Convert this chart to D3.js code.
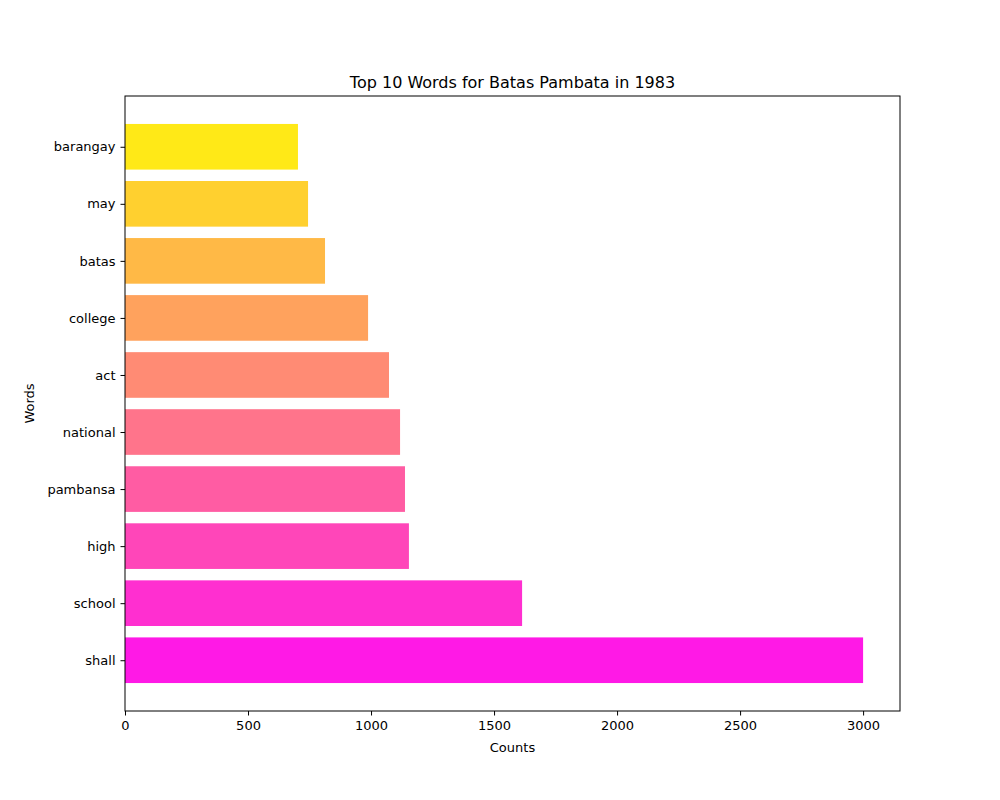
<!DOCTYPE html>
<html>
<head>
<meta charset="utf-8">
<script src="https://cdn.jsdelivr.net/npm/d3@7"></script>
<style>
  body { margin: 0; background: #fff; }
  text { font-family: "DejaVu Sans", sans-serif; }
</style>
</head>
<body>
<div id="chart"></div>
<script>
const words = ["shall", "school", "high", "pambansa", "national", "act", "college", "batas", "may", "barangay"];
const counts = [3000, 1614, 1154, 1138, 1118, 1073, 988, 813, 744, 703];
const colors = ["#ff19e6", "#ff2fd0", "#ff46b9", "#ff5ca3", "#ff748b", "#ff8b74", "#ffa25d", "#ffb946", "#ffd02f", "#ffe917"];
const xTicks = [0, 500, 1000, 1500, 2000, 2500, 3000];

const width = 1000, height = 800;
const plotLeft = 125, plotRight = 900, plotTop = 96, plotBottom = 711;

const svg = d3.select("#chart").append("svg")
    .attr("width", width)
    .attr("height", height);

const x = d3.scaleLinear().domain([0, 3150]).range([plotLeft, plotRight]);
// matplotlib style: bars at integer positions, 0.8 tall, 5% margins
const y = d3.scaleLinear().domain([-0.89, 9.89]).range([plotBottom, plotTop]);
const barH = y(0) - y(0.8);

svg.append("g")
  .selectAll("rect")
  .data(words)
  .enter()
  .append("rect")
    .attr("x", x(0))
    .attr("y", (d, i) => y(i + 0.4))
    .attr("width", (d, i) => x(counts[i]) - x(0))
    .attr("height", barH)
    .attr("fill", (d, i) => colors[i]);

// frame
svg.append("rect")
    .attr("x", plotLeft).attr("y", plotTop)
    .attr("width", plotRight - plotLeft).attr("height", plotBottom - plotTop)
    .attr("fill", "none").attr("stroke", "#000").attr("stroke-width", 1);

const xAxis = svg.append("g")
    .attr("transform", "translate(0," + plotBottom + ")")
    .call(d3.axisBottom(x).tickValues(xTicks).tickSize(4.5).tickPadding(5).tickFormat(d3.format("d")));
xAxis.select(".domain").remove();
xAxis.selectAll("text").attr("font-size", 13).attr("fill", "#000");

const yAxis = svg.append("g")
    .attr("transform", "translate(" + plotLeft + ",0)")
    .call(d3.axisLeft(y).tickValues(d3.range(words.length)).tickSize(4.5).tickPadding(5).tickFormat(i => words[i]));
yAxis.select(".domain").remove();
yAxis.selectAll("text").attr("font-size", 13).attr("fill", "#000");

svg.append("text")
    .attr("x", (plotLeft + plotRight) / 2).attr("y", 88)
    .attr("text-anchor", "middle").attr("font-size", 16)
    .text("Top 10 Words for Batas Pambata in 1983");

svg.append("text")
    .attr("x", (plotLeft + plotRight) / 2).attr("y", 752)
    .attr("text-anchor", "middle").attr("font-size", 13)
    .text("Counts");

svg.append("text")
    .attr("transform", "translate(34," + (plotTop + plotBottom) / 2 + ") rotate(-90)")
    .attr("text-anchor", "middle").attr("font-size", 13)
    .text("Words");
</script>
</body>
</html>
